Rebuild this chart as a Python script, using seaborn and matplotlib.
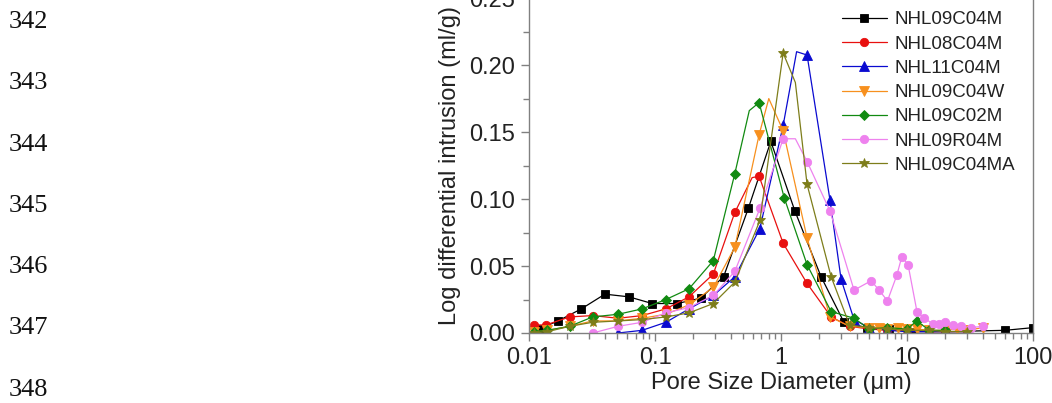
import numpy as np
import pandas as pd
import seaborn as sns
import matplotlib.pyplot as plt
from matplotlib.ticker import MultipleLocator

sns.set_style("ticks")
plt.rcParams['font.family'] = ['Liberation Sans', 'DejaVu Sans']

# series (pore diameter in um, log differential intrusion in ml/g)
black_d = [0.012, 0.017, 0.026, 0.040, 0.062, 0.095, 0.15, 0.23, 0.35, 0.55, 0.83, 1.29, 2.08, 3.16, 4.8, 7.2, 11, 20, 60, 100]
black_v = [0.003, 0.009, 0.018, 0.029, 0.027, 0.022, 0.022, 0.026, 0.042, 0.093, 0.143, 0.091, 0.042, 0.008, 0.004, 0.003, 0.001, 0.001, 0.002, 0.004]

red_d = [0.011, 0.0136, 0.021, 0.032, 0.051, 0.079, 0.122, 0.186, 0.29, 0.43, 0.59, 0.67, 1.04, 1.61, 2.5, 3.5, 5, 7, 10, 15, 20, 30]
red_v = [0.006, 0.006, 0.012, 0.013, 0.011, 0.013, 0.018, 0.027, 0.044, 0.090, 0.116, 0.117, 0.067, 0.037, 0.012, 0.005, 0.003, 0.002, 0.002, 0.001, 0.001, 0.001]

blue_d = [0.051, 0.079, 0.122, 0.186, 0.29, 0.43, 0.68, 1.04, 1.33, 1.61, 2.45, 3.0, 3.8, 5, 7, 10, 15, 20, 30]
blue_v = [0.0, 0.002, 0.008, 0.018, 0.028, 0.042, 0.078, 0.155, 0.210, 0.2075, 0.099, 0.040, 0.010, 0.004, 0.002, 0.001, 0.001, 0.001, 0.001]

orange_d = [0.011, 0.014, 0.021, 0.032, 0.051, 0.079, 0.122, 0.186, 0.29, 0.43, 0.67, 0.80, 1.04, 1.61, 2.45, 3.5, 5, 6, 7, 8.5, 10, 12, 15, 20, 25, 30, 40]
orange_v = [0.001, 0.002, 0.005, 0.009, 0.009, 0.011, 0.014, 0.021, 0.034, 0.064, 0.148, 0.175, 0.151, 0.071, 0.012, 0.005, 0.004, 0.004, 0.003, 0.004, 0.003, 0.003, 0.002, 0.002, 0.003, 0.002, 0.004]

green_d = [0.011, 0.014, 0.021, 0.032, 0.051, 0.079, 0.122, 0.186, 0.29, 0.43, 0.56, 0.67, 1.06, 1.61, 2.5, 3.8, 5, 7, 10, 12, 15, 20]
green_v = [0.001, 0.002, 0.005, 0.012, 0.014, 0.018, 0.025, 0.033, 0.054, 0.119, 0.166, 0.172, 0.101, 0.051, 0.016, 0.011, 0.003, 0.004, 0.003, 0.009, 0.002, 0.002]

pink_d = [0.032, 0.051, 0.079, 0.122, 0.186, 0.29, 0.43, 0.68, 1.04, 1.3, 1.61, 2.45, 3.8, 5.2, 6, 7, 8.3, 9.1, 10.2, 12, 13.7, 16, 18, 20, 23, 27, 32, 40]
pink_v = [0.0, 0.005, 0.008, 0.015, 0.019, 0.028, 0.046, 0.093, 0.145, 0.145, 0.128, 0.091, 0.032, 0.039, 0.032, 0.024, 0.043, 0.057, 0.051, 0.016, 0.011, 0.007, 0.007, 0.008, 0.006, 0.005, 0.004, 0.005]

olive_d = [0.011, 0.014, 0.021, 0.032, 0.051, 0.079, 0.122, 0.186, 0.29, 0.43, 0.68, 1.04, 1.3, 1.61, 2.5, 3.5, 5, 7, 10, 15, 20, 30]
olive_v = [0.0, 0.001, 0.005, 0.008, 0.009, 0.010, 0.012, 0.015, 0.022, 0.038, 0.084, 0.209, 0.187, 0.111, 0.042, 0.006, 0.004, 0.003, 0.002, 0.002, 0.001, 0.001]

names = ['NHL09C04M', 'NHL08C04M', 'NHL11C04M', 'NHL09C04W', 'NHL09C02M', 'NHL09R04M', 'NHL09C04MA']
line_numbers = ['342', '343', '344', '345', '346', '347', '348']

series = [(black_d, black_v), (red_d, red_v), (blue_d, blue_v), (orange_d, orange_v),
          (green_d, green_v), (pink_d, pink_v), (olive_d, olive_v)]
colors = ['#000000', '#e8100f', '#0a0ad0', '#f7901e', '#118a11', '#ee82ee', '#7d7d1a']
markers = ['s', 'o', '^', 'v', 'D', 'o', '*']
msizes = [5.5, 6, 6.5, 6.5, 5, 6, 7.5]
# vertices drawn without a marker in the original (peak interpolation points)
no_marker = [[], [10], [8], [11], [10], [9], [12]]

fig = plt.figure(figsize=(10.52, 4.03), dpi=100)
ax = fig.add_axes([0.5029, 0.1737, 0.479, 0.831])

for (d, v), name, c, m, ms, skip in zip(series, names, colors, markers, msizes, no_marker):
    df = pd.DataFrame({'d': d, 'v': v})
    every = [i for i in range(len(d)) if i not in skip]
    sns.lineplot(data=df, x='d', y='v', ax=ax, color=c, marker=m, markersize=ms,
                 markeredgecolor=c, markeredgewidth=0.6, linewidth=0.9,
                 markevery=every, label=name)

ax.set_xscale('log')
ax.set_xlim(0.01, 100)
ax.set_ylim(0, 0.25)
ax.yaxis.set_major_locator(MultipleLocator(0.05))
ax.yaxis.set_minor_locator(MultipleLocator(0.025))
ax.set_xticks([0.01, 0.1, 1, 10, 100])
ax.set_xticklabels(['0.01', '0.1', '1', '10', '100'])
ax.yaxis.set_major_formatter(plt.FormatStrFormatter('%.2f'))

for s in ax.spines.values():
    s.set_color('#808080')
    s.set_linewidth(1.0)
ax.tick_params(which='major', direction='out', length=6, width=1, color='#808080',
               labelsize=17, labelcolor='#222222', pad=4)
ax.tick_params(which='minor', direction='out', length=4, width=1, color='#808080')

ax.set_xlabel('Pore Size Diameter (μm)', fontsize=17, color='#222222', labelpad=2)
ax.set_ylabel('Log differential intrusion (ml/g)', fontsize=17, color='#222222', labelpad=6)

leg = ax.legend(loc='upper right', bbox_to_anchor=(0.99, 1.0), frameon=False, fontsize=13.5,
                handlelength=2.4, labelspacing=0.38, handletextpad=0.4, borderaxespad=0.3)
for t in leg.get_texts():
    t.set_color('#222222')

# page line numbers from the manuscript
for i, ln in enumerate(line_numbers):
    fig.text(0.008, 1 - (22 + i * 61.3) / 403, ln, family='Liberation Serif', fontsize=19,
             va='center', ha='left', color='#111111')

fig.savefig('out.png', dpi=100)
